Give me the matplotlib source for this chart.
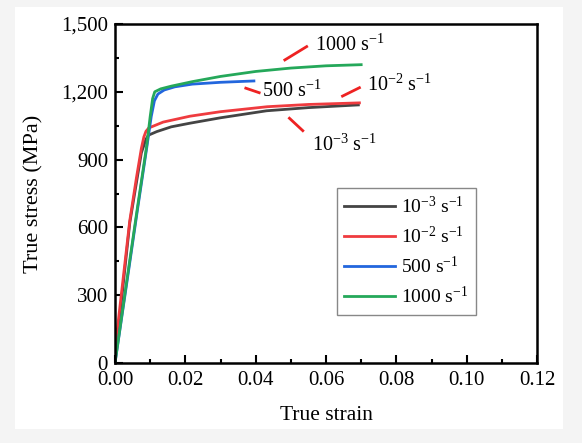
import numpy as np
import matplotlib.pyplot as plt
from matplotlib.patches import Rectangle
from matplotlib.ticker import MultipleLocator, FuncFormatter

plt.rcParams['font.family'] = ['Liberation Serif', 'DejaVu Serif']
plt.rcParams['mathtext.fontset'] = 'custom'
plt.rcParams['mathtext.rm'] = 'Liberation Serif'
plt.rcParams['mathtext.it'] = 'Liberation Serif:italic'

# === DATI ===
labels = ["10$^{-3}$ s$^{-1}$", "10$^{-2}$ s$^{-1}$", "500 s$^{-1}$", "1000 s$^{-1}$"]
colors = ["#444444", "#ef3b3f", "#2266dd", "#25a85a"]

strain_1e3 = [0, 0.0008, 0.0042, 0.0075, 0.0088, 0.0095, 0.0119, 0.0160, 0.0213, 0.030, 0.0431, 0.055, 0.0692]
stress_1e3 = [0, 125, 620, 930, 990, 1008, 1024, 1045, 1061, 1085, 1116, 1130, 1142]

strain_1e2 = [0, 0.0006, 0.0042, 0.0061, 0.0075, 0.0082, 0.0088, 0.0096, 0.0137, 0.0213, 0.030, 0.0433, 0.055, 0.0695]
stress_1e2 = [0, 140, 630, 820, 950, 1000, 1025, 1040, 1066, 1092, 1112, 1134, 1144, 1151]

strain_500 = [0, 0.0035, 0.0065, 0.0090, 0.0103, 0.0112, 0.0122, 0.0140, 0.017, 0.022, 0.030, 0.0395]
stress_500 = [0, 370, 690, 950, 1090, 1160, 1190, 1208, 1222, 1234, 1242, 1248]

strain_1000 = [0, 0.0035, 0.0065, 0.0090, 0.0100, 0.0107, 0.0113, 0.0130, 0.016, 0.022, 0.030, 0.040, 0.050, 0.060, 0.070]
stress_1000 = [0, 380, 700, 960, 1090, 1170, 1200, 1213, 1225, 1245, 1268, 1290, 1305, 1315, 1320]

# annotazioni: testo, segmento (x0, y0, x1, y1), posizione testo
ann_text = ["1000 s$^{-1}$", "500 s$^{-1}$", "10$^{-2}$ s$^{-1}$", "10$^{-3}$ s$^{-1}$"]
ann_seg = [(0.0483, 1341, 0.0545, 1400),
           (0.0372, 1216, 0.0410, 1196),
           (0.0647, 1181, 0.0695, 1218),
           (0.0496, 1083, 0.0534, 1028)]
ann_pos = [(0.0569, 1407), (0.0419, 1204), (0.0716, 1230), (0.0559, 965)]

# === FIGURA ===
fig = plt.figure(figsize=(5.82, 4.43), dpi=100)
fig.patch.set_facecolor("#f4f4f4")
fig.patches.append(Rectangle((15 / 582, 1 - 429 / 443), 548 / 582, 422 / 443,
                             transform=fig.transFigure, facecolor="white",
                             edgecolor="none", zorder=-10))
ax = fig.add_axes([115 / 582, 1 - 363 / 443, 422 / 582, 339 / 443])
ax.set_zorder(1)

series = [(strain_1e3, stress_1e3), (strain_1e2, stress_1e2),
          (strain_500, stress_500), (strain_1000, stress_1000)]
for (xs, ys), lab, c in zip(series, labels, colors):
    ax.plot(xs, ys, color=c, lw=2.0, label=lab)

for txt, (x0, y0, x1, y1), (tx, ty) in zip(ann_text, ann_seg, ann_pos):
    ax.plot([x0, x1], [y0, y1], color="#ee2222", lw=2.0)
    ax.text(tx, ty, txt, fontsize=14.5, va="center", ha="left")

ax.set_xlim(0, 0.12)
ax.set_ylim(0, 1500)
ax.xaxis.set_major_locator(MultipleLocator(0.02))
ax.xaxis.set_minor_locator(MultipleLocator(0.01))
ax.yaxis.set_major_locator(MultipleLocator(300))
ax.yaxis.set_minor_locator(MultipleLocator(150))
ax.xaxis.set_major_formatter(FuncFormatter(lambda v, p: f"{v:.2f}"))
ax.yaxis.set_major_formatter(FuncFormatter(lambda v, p: f"{v:,.0f}"))
ax.tick_params(which="both", direction="in", top=False, right=False, labelsize=15, width=1.5)
ax.tick_params(which="major", length=6)
ax.tick_params(which="minor", length=3)
ax.tick_params(axis="x", pad=6)
ax.tick_params(axis="y", pad=5)
for s in ax.spines.values():
    s.set_linewidth(1.8)

ax.set_xlabel("True strain", fontsize=15.5, labelpad=11)
ax.set_ylabel("True stress (MPa)", fontsize=16, labelpad=13)

leg = ax.legend(loc="lower right", bbox_to_anchor=(0.855, 0.142), fontsize=14,
                frameon=True, fancybox=False, edgecolor="#888888", framealpha=1,
                handlelength=2.6, labelspacing=0.45, borderpad=0.4, handletextpad=0.3,
                borderaxespad=0)
leg.get_frame().set_linewidth(1.0)

fig.savefig("out.png", dpi=100, facecolor=fig.get_facecolor())
